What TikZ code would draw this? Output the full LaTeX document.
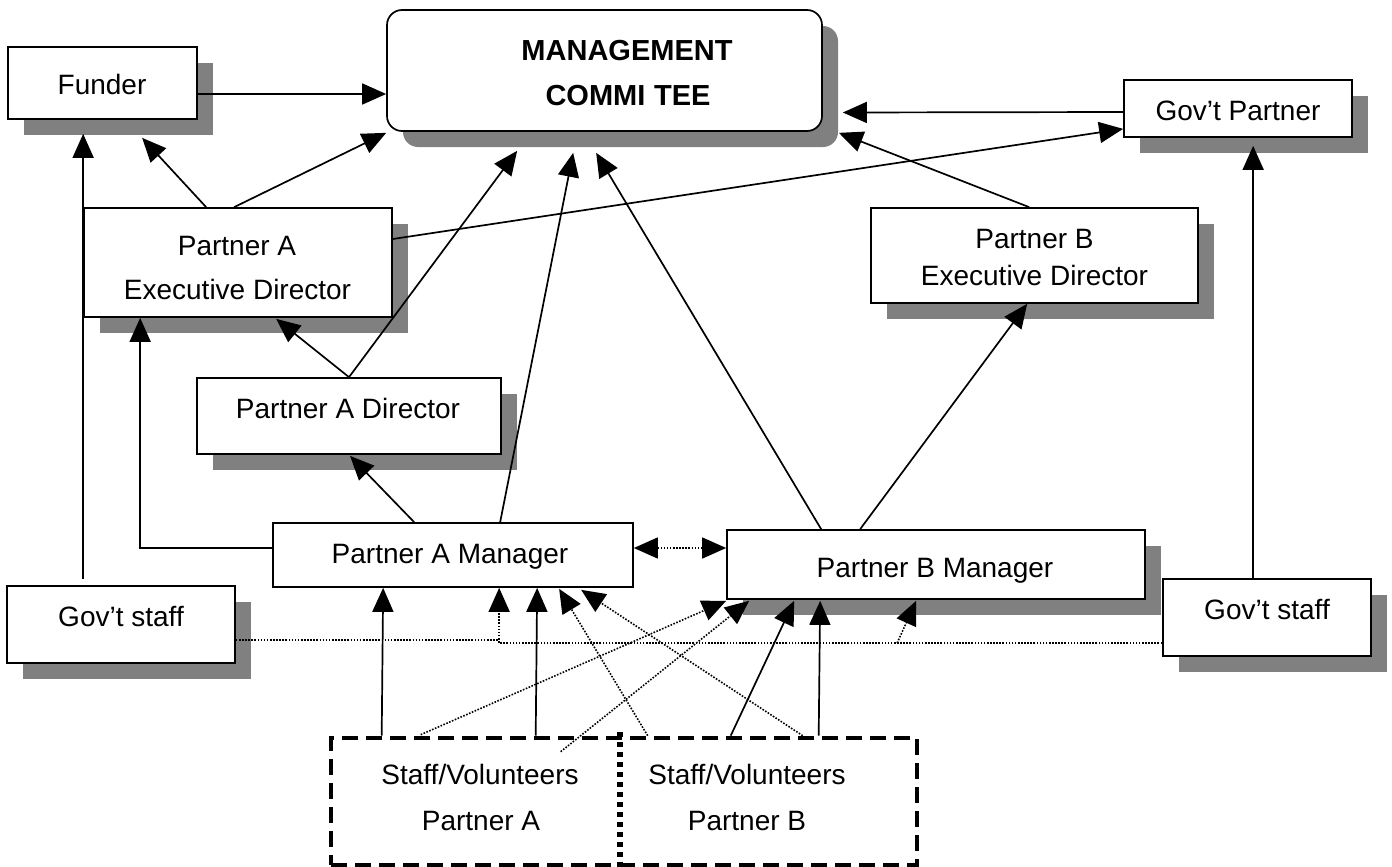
\documentclass[tikz,border=0pt]{standalone}
\usepackage{fontspec}
\setmainfont{Liberation Sans}
\usetikzlibrary{arrows.meta,shadows}
\definecolor{shadowgray}{RGB}{128,128,128}
\begin{document}
\begin{tikzpicture}[x=1pt,y=-1pt,
 box/.style={draw, line width=1.7pt, fill=white, inner sep=0pt},
 shbox/.style={box, drop shadow={shadow xshift=16pt, shadow yshift=-16pt, fill=shadowgray, opacity=1}},
 txt/.style={anchor=base, inner sep=0pt, font=\fontsize{28}{34}\selectfont},
 btxt/.style={anchor=base, inner sep=0pt, font=\fontsize{29}{35}\selectfont\bfseries},
 arr/.style={line width=1.7pt, -{Triangle[length=24pt,width=21pt]}},
 dline/.style={line width=1.6pt, dash pattern=on 1.6pt off 1.5pt},
 darr/.style={dline, -{Triangle[length=24pt,width=21pt]}},
 ddarr/.style={dline, {Triangle[length=24pt,width=21pt]}-{Triangle[length=24pt,width=21pt]}},
]
\useasboundingbox (0,0) rectangle (1392,867);
% boxes
\node[shbox, minimum width=189pt, minimum height=72pt] (funder) at (102.5,83) {};
\node[shbox, rounded corners=15pt, minimum width=435pt, minimum height=121pt] (mc) at (604.5,70.5) {};
\node[shbox, minimum width=228pt, minimum height=57pt] (gp) at (1238,108.5) {};
\node[shbox, minimum width=308pt, minimum height=109pt] (paed) at (238,262.5) {};
\node[shbox, minimum width=327pt, minimum height=95pt] (pbed) at (1034.5,255.5) {};
\node[shbox, minimum width=304pt, minimum height=76pt] (pad) at (349,416) {};
\node[box, minimum width=360pt, minimum height=64pt] (pam) at (453,555) {};
\node[shbox, minimum width=418pt, minimum height=69pt] (pbm) at (936,564.5) {};
\node[shbox, minimum width=228pt, minimum height=77pt] (gsl) at (121,624.5) {};
\node[shbox, minimum width=208pt, minimum height=77pt] (gsr) at (1267,617.5) {};
\node[draw, line width=4.6pt, dash pattern=on 16pt off 8pt, inner sep=0pt, minimum width=586pt, minimum height=127pt] (staff) at (624,801.5) {};
\coordinate (divtop) at ([shift={(291,-4)}]staff.north west);
\coordinate (divbot) at ([shift={(291,0)}]staff.south west);
\draw[line width=6pt, dash pattern=on 5.5pt off 4.5pt] (divtop) -- (divbot);
% texts
\node[txt] (tfunder) at (102,94) {Funder};
\node[btxt] (tmc1) at (627,61) {MANAGEMENT};
\node[btxt] (tmc2) at (628,106) {COMMI\kern0.3em TEE};
\node[txt] (tgp) at (1238,120) {Gov’t Partner};
\node[txt] (tpaed1) at (237,255) {Partner A};
\node[txt] (tpaed2) at (237.5,299) {Executive Director};
\node[txt] (tpbed1) at (1034.5,248) {Partner B};
\node[txt] (tpbed2) at (1034.5,285) {Executive Director};
\node[txt] (tpad) at (348,418) {Partner A Director};
\node[txt] (tpam) at (450,563) {Partner A Manager};
\node[txt] (tpbm) at (935,577) {Partner B Manager};
\node[txt] (tgsl) at (121,626) {Gov’t staff};
\node[txt] (tgsr) at (1267,619) {Gov’t staff};
\node[txt] (tsa1) at (480,784) {Staff/Volunteers};
\node[txt] (tsa2) at (481,830) {Partner A};
\node[txt] (tsb1) at (747,784) {Staff/Volunteers};
\node[txt] (tsb2) at (747,830) {Partner B};
% connectors
\draw[arr] ([shift={(0,11)}]funder.east) -- ([shift={(0,23.5)}]mc.west);
\draw[arr] ([shift={(123,0)}]paed.north west) -- ([shift={(135,18)}]funder.south west);
\draw[arr] ([shift={(151,0)}]paed.north west) -- ([shift={(0,1)}]mc.south west);
\draw[arr] ([shift={(77,-6)}]gsl.north west) -- ([shift={(76,14)}]funder.south west);
\draw[arr] ([shift={(0,-7)}]pam.west) -| ([shift={(57,0)}]paed.south west);
\draw[arr] (pad.north) -- ([shift={(193,1)}]paed.south west);
\draw[arr] (pad.north) -- ([shift={(131,19)}]mc.south west);
\draw[arr] ([shift={(142,0)}]pam.north west) -- ([shift={(1,1)}]pad.south);
\draw[arr] ([shift={(228,0)}]pam.north west) -- ([shift={(187,21)}]mc.south west);
\draw[arr] ([shift={(95,0)}]pbm.north west) -- ([shift={(210,21)}]mc.south west);
\draw[arr] ([shift={(134,0)}]pbm.north west) -- ([shift={(157,0)}]pbed.south west);
\draw[arr] ([shift={(159,0)}]pbed.north west) -- ([shift={(16,1)}]mc.south east);
\draw[arr] ([shift={(0,3.5)}]gp.west) -- ([shift={(20,42)}]mc.east);
\draw[arr] ([shift={(0,-23.5)}]paed.east) -- ([shift={(0,-9)}]gp.south west);
\draw[arr] ([shift={(91,0)}]gsr.north west) -- ([shift={(130,8)}]gp.south west);
\draw[ddarr] ([shift={(0,-7)}]pam.east) -- ([shift={(0,-16.5)}]pbm.west);
\coordinate (gslout) at ([shift={(0,15.5)}]gsl.east);
\coordinate (gsrout) at ([shift={(0,25.5)}]gsr.west);
\coordinate (pamin) at ([shift={(227,0)}]pam.south west);
\coordinate (brk) at ([shift={(171,0)}]pbm.south west);
\draw[dline] (gslout) -- (gslout -| pamin);
\draw[darr] (gsrout) -| (pamin);
\draw[darr] (brk |- gsrout) -- ([shift={(190,1)}]pbm.south west);
\draw[arr] ([shift={(53,0)}]staff.north west) -- ([shift={(111,0)}]pam.south west);
\draw[arr] ([shift={(207,0)}]staff.north west) -- ([shift={(265,0)}]pam.south west);
\draw[arr] ([shift={(402,0)}]staff.north west) -- ([shift={(68,1)}]pbm.south west);
\draw[arr] ([shift={(490,0)}]staff.north west) -- ([shift={(94,1)}]pbm.south west);
\draw[darr] ([shift={(92,-1)}]staff.north west) -- ([shift={(0,1)}]pbm.south west);
\draw[darr] ([shift={(232,16)}]staff.north west) -- ([shift={(23,1)}]pbm.south west);
\draw[darr] ([shift={(319,0)}]staff.north west) -- ([shift={(287,1)}]pam.south west);
\draw[darr] ([shift={(474,0)}]staff.north west) -- ([shift={(309,2)}]pam.south west);
\end{tikzpicture}
\end{document}
